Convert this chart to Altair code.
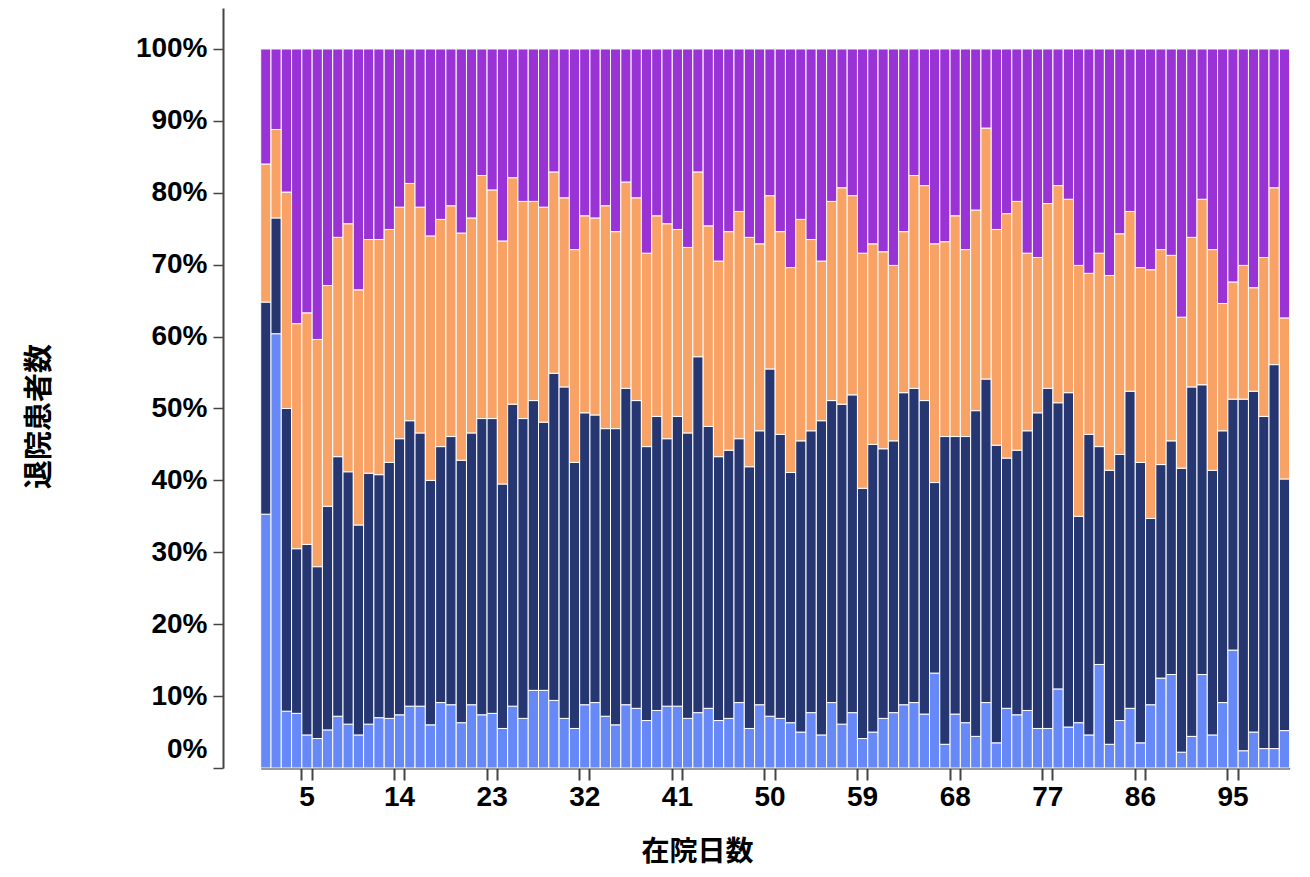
import altair as alt
import pandas as pd

# 在院日数 (days 1..100)
days = list(range(1, 101))

# cumulative boundaries (percent)
light_top = [35.3, 60.4, 7.9, 7.6, 4.6, 4.1, 5.3, 7.2, 6.1, 4.6,
             6.1, 7.0, 6.9, 7.4, 8.6, 8.6, 6.0, 9.1, 8.8, 6.3,
             8.8, 7.4, 7.6, 5.5, 8.6, 6.9, 10.8, 10.8, 9.4, 6.9,
             5.5, 8.8, 9.1, 7.2, 6.0, 8.8, 8.3, 6.6, 8.0, 8.6,
             8.6, 6.9, 7.7, 8.3, 6.6, 6.9, 9.1, 5.5, 8.8, 7.2,
             6.9, 6.3, 5.0, 7.7, 4.6, 9.1, 6.1, 7.7, 4.1, 5.0,
             6.9, 7.7, 8.8, 9.1, 7.5, 13.2, 3.3, 7.5, 6.3, 4.4,
             9.1, 3.5, 8.3, 7.4, 8.0, 5.5, 5.5, 11.0, 5.7, 6.3,
             4.6, 14.4, 3.3, 6.6, 8.3, 3.5, 8.8, 12.5, 13.0, 2.2,
             4.4, 13.0, 4.6, 9.1, 16.4, 2.4, 5.0, 2.7, 2.7, 5.2]

navy_top = [64.8, 76.5, 50.0, 30.5, 31.1, 28.0, 36.4, 43.3, 41.2, 33.8,
            41.0, 40.8, 42.5, 45.8, 48.3, 46.6, 40.0, 44.7, 46.1, 42.8,
            46.6, 48.6, 48.6, 39.5, 50.6, 48.6, 51.1, 48.1, 54.9, 53.0,
            42.5, 49.4, 49.1, 47.2, 47.2, 52.8, 51.1, 44.7, 48.9, 45.8,
            48.9, 46.6, 57.2, 47.5, 43.3, 44.2, 45.8, 41.9, 46.9, 55.5,
            46.4, 41.1, 45.5, 46.9, 48.3, 51.1, 50.6, 51.9, 38.9, 45.0,
            44.4, 45.5, 52.2, 52.8, 51.1, 39.7, 46.1, 46.1, 46.1, 49.7,
            54.1, 44.9, 43.1, 44.2, 46.9, 49.4, 52.8, 50.8, 52.2, 35.0,
            46.4, 44.7, 41.4, 43.6, 52.4, 42.5, 34.7, 42.2, 45.5, 41.7,
            53.0, 53.3, 41.4, 46.9, 51.3, 51.3, 52.4, 48.9, 56.1, 40.2]

orange_top = [84.0, 88.8, 80.1, 61.8, 63.3, 59.6, 67.1, 73.8, 75.7, 66.5,
              73.5, 73.5, 74.9, 78.0, 81.3, 78.0, 74.0, 76.3, 78.2, 74.4,
              76.5, 82.4, 80.4, 73.3, 82.1, 78.8, 78.8, 78.0, 82.9, 79.3,
              72.1, 76.8, 76.5, 78.2, 74.6, 81.5, 79.3, 71.6, 76.8, 75.7,
              74.9, 72.4, 82.9, 75.4, 70.5, 74.6, 77.4, 73.8, 72.9, 79.6,
              74.6, 69.6, 76.3, 73.5, 70.5, 78.8, 80.7, 79.6, 71.6, 72.9,
              71.8, 69.9, 74.6, 82.4, 81.0, 72.9, 73.2, 76.8, 72.1, 77.6,
              89.0, 74.9, 77.1, 78.8, 71.6, 71.0, 78.5, 81.0, 79.1, 69.9,
              68.8, 71.6, 68.5, 74.3, 77.4, 69.6, 69.3, 72.1, 71.3, 62.7,
              73.8, 79.1, 72.1, 64.6, 67.6, 69.9, 66.8, 71.0, 80.7, 62.6]

series_names = ["区分1", "区分2", "区分3", "区分4"]
series_colors = ["#6689F7", "#253670", "#F8A365", "#9933D6"]

x_label_values = [5, 14, 23, 32, 41, 50, 59, 68, 77, 86, 95]
x_tick_values = sorted(x_label_values + [v + 1 for v in x_label_values])
y_tick_values = [round(i * 0.1, 1) for i in range(11)]

rows = []
for i, d in enumerate(days):
    shares = [light_top[i],
              navy_top[i] - light_top[i],
              orange_top[i] - navy_top[i],
              100.0 - orange_top[i]]
    for k, s in enumerate(shares):
        rows.append({"day": d, "series": series_names[k], "order": k,
                     "share": s / 100.0})
df = pd.DataFrame(rows)

label_font = "Liberation Sans"
title_font = "Noto Sans CJK JP"
label_list = "[" + ",".join(str(v) for v in x_label_values) + "]"

chart = alt.Chart(df).mark_bar(stroke="white", strokeWidth=1).encode(
    x=alt.X(
        "day:O",
        sort="ascending",
        scale=alt.Scale(paddingInner=0, paddingOuter=0, range=[37.7, 1066.6]),
        axis=alt.Axis(
            values=x_tick_values,
            bandPosition=0,
            labelExpr=f"indexof({label_list}, datum.value) >= 0 ? datum.label : ''",
            labelOverlap=False,
            labelAngle=0,
            labelFont=label_font,
            labelFontSize=28,
            labelFontWeight="bold",
            labelColor="#000000",
            labelPadding=3,
            tickSize=12,
            tickWidth=2,
            tickColor="#444444",
            domainColor="#333333",
            domainWidth=2,
            grid=False,
            title="在院日数",
            titleFont=title_font,
            titleFontSize=28,
            titleFontWeight="bold",
            titleColor="#000000",
            titleX=474,
            titleY=84,
            titleAlign="center",
            titleBaseline="middle",
        ),
    ),
    y=alt.Y(
        "share:Q",
        stack="zero",
        scale=alt.Scale(domain=[0, 1.057], nice=False, zero=True),
        axis=alt.Axis(
            values=y_tick_values,
            format=".0%",
            labelFont=label_font,
            labelFontSize=28,
            labelFontWeight="bold",
            labelColor="#000000",
            labelPadding=6,
            labelFlush=False,
            labelOffset={"condition": {"test": "datum.value === 0", "value": -19}, "value": 0},
            tickSize=10,
            tickWidth=1.5,
            tickColor="#444444",
            domainColor="#444444",
            domainWidth=2,
            grid=True,
            gridColor="#c4c4c4",
            gridDash=[2, 2],
            gridWidth=1,
            title="退院患者数",
            titleFont=title_font,
            titleFontSize=29,
            titleFontWeight="bold",
            titleColor="#000000",
            titleX=-184,
            titleY=408,
            titleAlign="center",
            titleBaseline="middle",
        ),
    ),
    color=alt.Color("series:N",
                    scale=alt.Scale(domain=series_names, range=series_colors),
                    legend=None),
    order=alt.Order("order:Q", sort="ascending"),
).properties(
    width=1079,
    height=760,
    autosize=alt.AutoSizeParams(type="none"),
    padding={"left": 215, "top": 0, "right": 0, "bottom": 101},
).configure(background="white").configure_view(stroke=None)

chart.save("out.html", embed_options={"renderer": "svg", "actions": False})
